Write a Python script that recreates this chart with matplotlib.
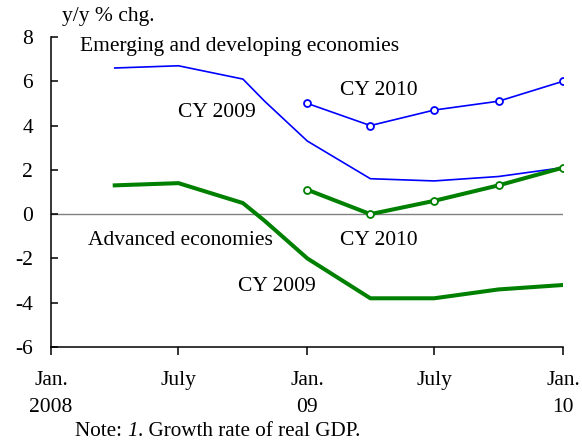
import datetime as dt
import matplotlib
matplotlib.use("Agg")
import matplotlib.pyplot as plt

plt.rcParams['font.family'] = ['Liberation Serif', 'DejaVu Serif']
plt.rcParams['axes.unicode_minus'] = False

# Forecast release dates (WEO and updates)
dates_2009 = ["2008-04", "2008-07", "2008-10", "2008-11", "2009-01",
              "2009-04", "2009-07", "2009-10", "2010-01"]
dates_2010 = ["2009-01", "2009-04", "2009-07", "2009-10", "2010-01"]

emerging_2009 = [6.6, 6.7, 6.1, 5.1, 3.3, 1.6, 1.5, 1.7, 2.1]
emerging_2010 = [5.0, 4.0, 4.7, 5.1, 6.0]
advanced_2009 = [1.3, 1.4, 0.5, -0.3, -2.0, -3.8, -3.8, -3.4, -3.2]
advanced_2010 = [1.1, 0.0, 0.6, 1.3, 2.1]

tick_dates = ["2008-01", "2008-07", "2009-01", "2009-07", "2010-01"]
tick_labels = ["Jan.\n2008", "July", "Jan.\n09", "July", "Jan.\n10"]
y_ticks = [-6, -4, -2, 0, 2, 4, 6, 8]


def to_dates(lst):
    return [dt.datetime.strptime(s, "%Y-%m") for s in lst]


FS = 15.5
fig = plt.figure(figsize=(5.82, 4.43), dpi=100)
ax = fig.add_axes([51 / 582, 1 - 347 / 443, 512 / 582, 310 / 443])

ax.axhline(0, color='#808080', lw=1.0, zorder=1)

blue = '#0000FF'
green = '#008000'
ax.plot(to_dates(dates_2009), emerging_2009, color=blue, lw=1.2, zorder=3)
ax.plot(to_dates(dates_2010), emerging_2010, color=blue, lw=1.2, marker='o',
        ms=5, mfc='white', mec=blue, mew=1.3, zorder=4)
ax.plot(to_dates(dates_2009), advanced_2009, color=green, lw=2.9, zorder=3)
ax.plot(to_dates(dates_2010), advanced_2010, color=green, lw=2.9, marker='o',
        ms=5, mfc='white', mec=green, mew=1.3, zorder=4)

ax.set_xlim(to_dates(["2008-01"])[0], to_dates(["2010-01"])[0])
ax.set_ylim(-6, 8)
ax.set_yticks(y_ticks)
ax.set_yticklabels([str(v) for v in y_ticks], fontsize=FS)
ax.set_xticks(to_dates(tick_dates))
ax.set_xticklabels(tick_labels, fontsize=FS, linespacing=1.62)

for s in ['top', 'right']:
    ax.spines[s].set_visible(False)
for s in ['left', 'bottom']:
    ax.spines[s].set_linewidth(1.1)
ax.tick_params(axis='y', direction='in', length=5, width=1.1, pad=13)
ax.tick_params(axis='x', direction='out', length=6, width=1.1, pad=11)

ax.text(0.0566, 0.968, "Emerging and developing economies", transform=ax.transAxes,
        fontsize=FS, ha='left', va='center')
ax.text(0.564, 0.829, "CY 2010", transform=ax.transAxes, fontsize=FS, ha='left', va='center')
ax.text(0.248, 0.755, "CY 2009", transform=ax.transAxes, fontsize=FS, ha='left', va='center')
ax.text(0.072, 0.342, "Advanced economies", transform=ax.transAxes, fontsize=FS,
        ha='left', va='center')
ax.text(0.564, 0.342, "CY 2010", transform=ax.transAxes, fontsize=FS, ha='left', va='center')
ax.text(0.365, 0.194, "CY 2009", transform=ax.transAxes, fontsize=FS, ha='left', va='center')

fig.text(62 / 582, 1 - 17 / 443, "y/y % chg.", fontsize=FS, ha='left', va='center')

# Note line with italic "1"
NFS = 15.2
fig.canvas.draw()
renderer = fig.canvas.get_renderer()
x0 = 75 / 582
yn = 1 - 432 / 443
parts = [("Note: ", 'normal'), ("1", 'italic'), (". Growth rate of real GDP.", 'normal')]
for txt, style in parts:
    t = fig.text(x0, yn, txt, fontsize=NFS, ha='left', va='center', fontstyle=style)
    bb = t.get_window_extent(renderer=renderer)
    x0 += bb.width / fig.bbox.width

fig.savefig("out.png", dpi=100)
